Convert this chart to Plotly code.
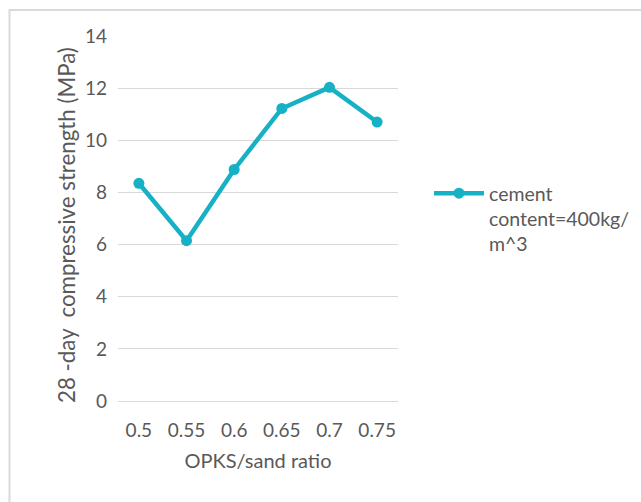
import plotly.graph_objects as go

# OPKS/sand ratio categories and 28-day compressive strength (MPa)
ratios = ["0.5", "0.55", "0.6", "0.65", "0.7", "0.75"]
strength = [8.35, 6.15, 8.88, 11.22, 12.03, 10.70]
series_name = "cement<br>content=400kg/<br>m^3"
y_title = "28 -day  compressive strength (MPa)"
y_ticks = [0, 2, 4, 6, 8, 10, 12, 14]

teal = "#17B1C6"
grey_text = "#595959"
grid = "#D9D9D9"
font_family = "Lato, Open Sans, sans-serif"

fig = go.Figure()
fig.add_trace(go.Scatter(
    x=ratios,
    y=strength,
    mode="lines+markers",
    name=series_name,
    line=dict(color=teal, width=4.5),
    marker=dict(color=teal, size=11),
))

fig.update_layout(
    width=641,
    height=502,
    margin=dict(l=118, r=243, t=36, b=101, autoexpand=False),
    paper_bgcolor="white",
    plot_bgcolor="white",
    font=dict(family=font_family, color=grey_text, size=18),
    showlegend=True,
    legend=dict(
        xref="container", yref="container",
        x=429 / 641, y=1 - 174 / 502, xanchor="left", yanchor="top",
        font=dict(size=19.5, color=grey_text),
        valign="top",
        itemwidth=50,
        bgcolor="rgba(0,0,0,0)",
    ),
    xaxis=dict(
        type="category",
        showgrid=False,
        showline=True,
        linecolor=grid,
        linewidth=1,
        ticks="",
        ticklabelstandoff=12,
        tickfont=dict(size=19, color=grey_text),
        title=dict(text="OPKS/sand ratio", font=dict(size=20, color=grey_text), standoff=14),
    ),
    yaxis=dict(
        range=[0, 14],
        tickvals=y_ticks,
        showgrid=True,
        gridcolor=grid,
        gridwidth=1,
        zeroline=False,
        showline=False,
        ticks="",
        ticklabelstandoff=10,
        tickfont=dict(size=19, color=grey_text),
    ),
)

# vertical axis title, placed slightly below the plot's centre line
fig.add_annotation(
    text=y_title, textangle=-90, showarrow=False,
    xref="paper", yref="paper", x=-0.186, y=0.482,
    xanchor="center", yanchor="middle",
    font=dict(size=22.3, color=grey_text, family=font_family),
)

# light outer frame of the chart area
fig.add_shape(type="rect", xref="paper", yref="paper",
              x0=-108.5 / 280, x1=2.0,
              y0=-0.5, y1=1 + 26 / 365,
              line=dict(color=grid, width=2), layer="below")

fig.write_html("out.html")
